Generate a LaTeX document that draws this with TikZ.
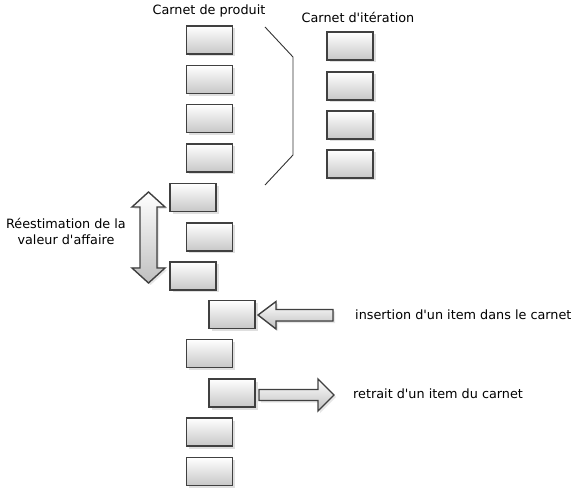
\documentclass[tikz,border=0pt]{standalone}
\usepackage{fontspec}
\setmainfont{DejaVu Sans}
\usetikzlibrary{shadows}
\tikzset{>=stealth}
\tikzset{
  item/.style={rectangle, draw=black!75, line width=1.8pt,
    top color=white, bottom color=black!22,
    minimum width=46pt, minimum height=28pt,
    drop shadow={shadow xshift=2.5pt, shadow yshift=-2.5pt, opacity=0.25}},
  bigarrow/.style={draw=black!75, line width=1.4pt, line join=miter,
    top color=white, bottom color=black!25,
    drop shadow={shadow xshift=2pt, shadow yshift=-2pt, opacity=0.2}},
  lbl/.style={font=\fontsize{12.8}{16}\selectfont, inner sep=0pt}
}
\newcommand{\ap}{\textquotesingle}

\begin{document}
\begin{tikzpicture}[x=1pt, y=-1pt]
\useasboundingbox (0,0) rectangle (576,489);
% product backlog
\node [lbl] (tprod) at (209,11) {Carnet de produit};
\node [item] (b1) at (209.5,40) {};
\node [item] (b2) at (209.5,79.5) {};
\node [item] (b3) at (209.5,118.5) {};
\node [item] (b4) at (209.5,158) {};
\node [item] (b5) at (193,197.5) {};
\node [item] (b6) at (209.5,237) {};
\node [item] (b7) at (193,276) {};
\node [item] (b8) at (232,314.5) {};
\node [item] (b9) at (209.5,353.5) {};
\node [item] (b10) at (232,393) {};
\node [item] (b11) at (209.5,432) {};
\node [item] (b12) at (209.5,471.5) {};
% iteration backlog
\node [lbl] (titer) at (358,17) {Carnet d\ap itération};
\node [item] (c1) at (350,46) {};
\node [item] (c2) at (350,86) {};
\node [item] (c3) at (350,125) {};
\node [item] (c4) at (350,164) {};
% bracket
\draw [black!80, line width=0.9pt] (265,27)--(293,57)--(293,155)--(265,185);
% re-estimation
\filldraw [bigarrow] (148.5,192)--(165,207)--(157,207)--(157,268)--(165,268)--(148.5,283)
  --(132,268)--(140,268)--(140,207)--(132,207)--cycle;
\node [lbl, align=center] (treest) at (66,231) {Réestimation de la\\valeur d\ap affaire};
% insertion
\filldraw [bigarrow] (258,315)--(276,301.5)--(276,309.5)--(333,309.5)--(333,321)
  --(276,321)--(276,329)--cycle;
\node [lbl, anchor=west] (tins) at (355,315) {insertion d\ap un item dans le carnet};
% removal
\filldraw [bigarrow] (259,389.5)--(318,389.5)--(318,379)--(334,395)--(318,411)
  --(318,400.5)--(259,400.5)--cycle;
\node [lbl, anchor=west] (tret) at (353,394) {retrait d\ap un item du carnet};
\end{tikzpicture}
\end{document}
